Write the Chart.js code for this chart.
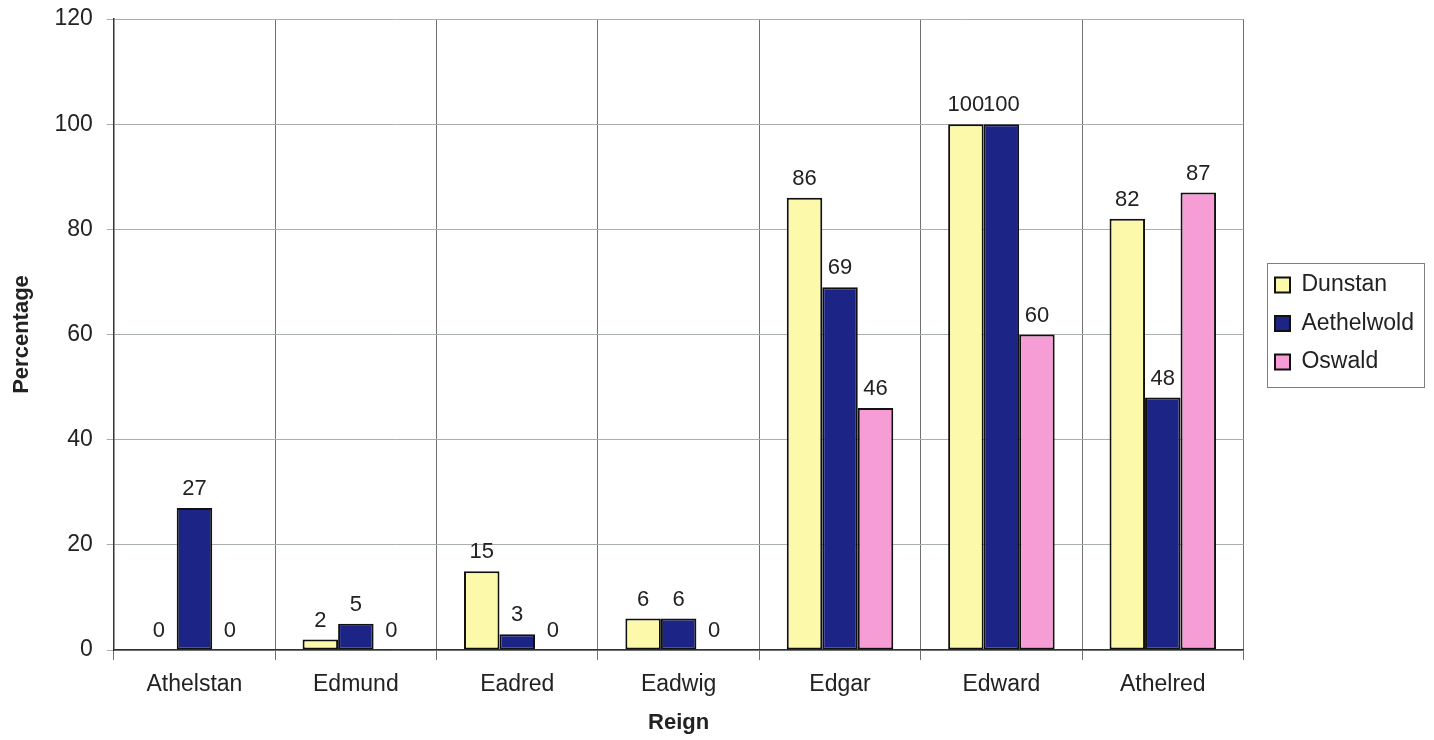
<!DOCTYPE html>
<html>
<head>
<meta charset="utf-8">
<script src="https://cdn.jsdelivr.net/npm/chart.js@4.4.1/dist/chart.umd.min.js"></script>
<style>
  html, body { margin: 0; padding: 0; background: #fff; }
  #wrap { width: 1434px; height: 740px; position: relative; }
</style>
</head>
<body>
<div id="wrap"><canvas id="reignChart"></canvas></div>
<script>
// --- data ---
const reigns = ['Athelstan', 'Edmund', 'Eadred', 'Eadwig', 'Edgar', 'Edward', 'Athelred'];
const dunstan = [0, 2, 15, 6, 86, 100, 82];
const aethelwold = [27, 5, 3, 6, 69, 100, 48];
const oswald = [0, 0, 0, 0, 46, 60, 87];
const yTicks = [0, 20, 40, 60, 80, 100, 120];

const FONT = '"Liberation Sans", Arial, Helvetica, sans-serif';
const TEXT = '#222';

// draws the value above each bar (zeros too, like the original)
const valueLabels = {
    id: 'valueLabels',
    afterDatasetsDraw(chart) {
        const ctx = chart.ctx;
        ctx.save();
        ctx.font = '22px ' + FONT;
        ctx.fillStyle = TEXT;
        ctx.textAlign = 'center';
        ctx.textBaseline = 'bottom';
        chart.data.datasets.forEach((ds, i) => {
            chart.getDatasetMeta(i).data.forEach((bar, j) => {
                ctx.fillText(String(ds.data[j]), bar.x, bar.y - 8);
            });
        });
        ctx.restore();
    }
};

// frame round the legend items
const legendFrame = {
    id: 'legendFrame',
    afterDraw(chart) {
        const boxes = chart.legend && chart.legend.legendHitBoxes;
        if (!boxes || !boxes.length) return;
        const left = Math.min(...boxes.map(b => b.left)) - 8;
        const right = Math.max(...boxes.map(b => b.left + b.width)) + 10;
        const top = Math.min(...boxes.map(b => b.top)) - 11;
        const bottom = Math.max(...boxes.map(b => b.top + b.height)) + 13;
        const ctx = chart.ctx;
        ctx.save();
        ctx.strokeStyle = '#808080';
        ctx.lineWidth = 1;
        ctx.strokeRect(Math.round(left) + 0.5, Math.round(top) + 0.5,
            Math.round(right - left), Math.round(bottom - top));
        ctx.restore();
    }
};

document.addEventListener('DOMContentLoaded', () => {
    const ctx = document.getElementById('reignChart').getContext('2d');

    new Chart(ctx, {
        type: 'bar',
        data: {
            labels: reigns,
            datasets: [
                { label: 'Dunstan', data: dunstan, backgroundColor: '#fdf9aa' },
                { label: 'Aethelwold', data: aethelwold, backgroundColor: '#1c2585' },
                { label: 'Oswald', data: oswald, backgroundColor: '#f79dd6' }
            ].map(d => Object.assign(d, {
                borderColor: '#111',
                borderWidth: 2,
                borderSkipped: false,
                categoryPercentage: 0.66,
                barPercentage: 1.0
            }))
        },
        options: {
            responsive: true,
            maintainAspectRatio: false,
            animation: false,
            layout: { padding: { top: 0, right: 10, left: 9, bottom: 2 } },
            plugins: {
                legend: {
                    position: 'right',
                    align: 'start',
                    title: {
                        display: true,
                        text: '',
                        font: { size: 10 },
                        padding: { top: 246, bottom: 0 }
                    },
                    labels: {
                        font: { family: FONT, size: 23 },
                        color: TEXT,
                        boxWidth: 15,
                        boxHeight: 15,
                        padding: 15.5,
                        useBorderRadius: false
                    }
                },
                tooltip: { enabled: false }
            },
            scales: {
                x: {
                    grid: {
                        color: '#707070',
                        offset: true,
                        tickLength: 10,
                        lineWidth: 1
                    },
                    border: { color: '#333', width: 1.5 },
                    ticks: {
                        font: { family: FONT, size: 23 },
                        color: TEXT,
                        padding: 11
                    },
                    title: {
                        display: true,
                        text: 'Reign',
                        font: { family: FONT, size: 22, weight: 'bold' },
                        color: TEXT,
                        padding: { top: 0, bottom: 2 }
                    }
                },
                y: {
                    min: 0,
                    max: 120,
                    afterBuildTicks: axis => {
                        axis.ticks = yTicks.map(v => ({ value: v }));
                    },
                    // top label overhang without the tick padding
                    afterFit: axis => { axis.paddingTop = 19; },
                    grid: {
                        color: '#a9aeae',
                        tickLength: 7
                    },
                    border: { color: '#333', width: 1.5 },
                    ticks: {
                        font: { family: FONT, size: 23 },
                        color: TEXT,
                        padding: 14
                    },
                    title: {
                        display: true,
                        text: 'Percentage',
                        font: { family: FONT, size: 22, weight: 'bold' },
                        color: TEXT,
                        padding: { top: 0, bottom: 5 }
                    }
                },
                // empty axis that only keeps a gap between plot and legend
                gap: {
                    type: 'linear',
                    position: 'right',
                    display: true,
                    grid: { display: false, drawTicks: false },
                    border: { display: false },
                    ticks: { display: false },
                    afterFit: axis => { axis.width = 16; }
                }
            }
        },
        plugins: [valueLabels, legendFrame]
    });
});
</script>
</body>
</html>
